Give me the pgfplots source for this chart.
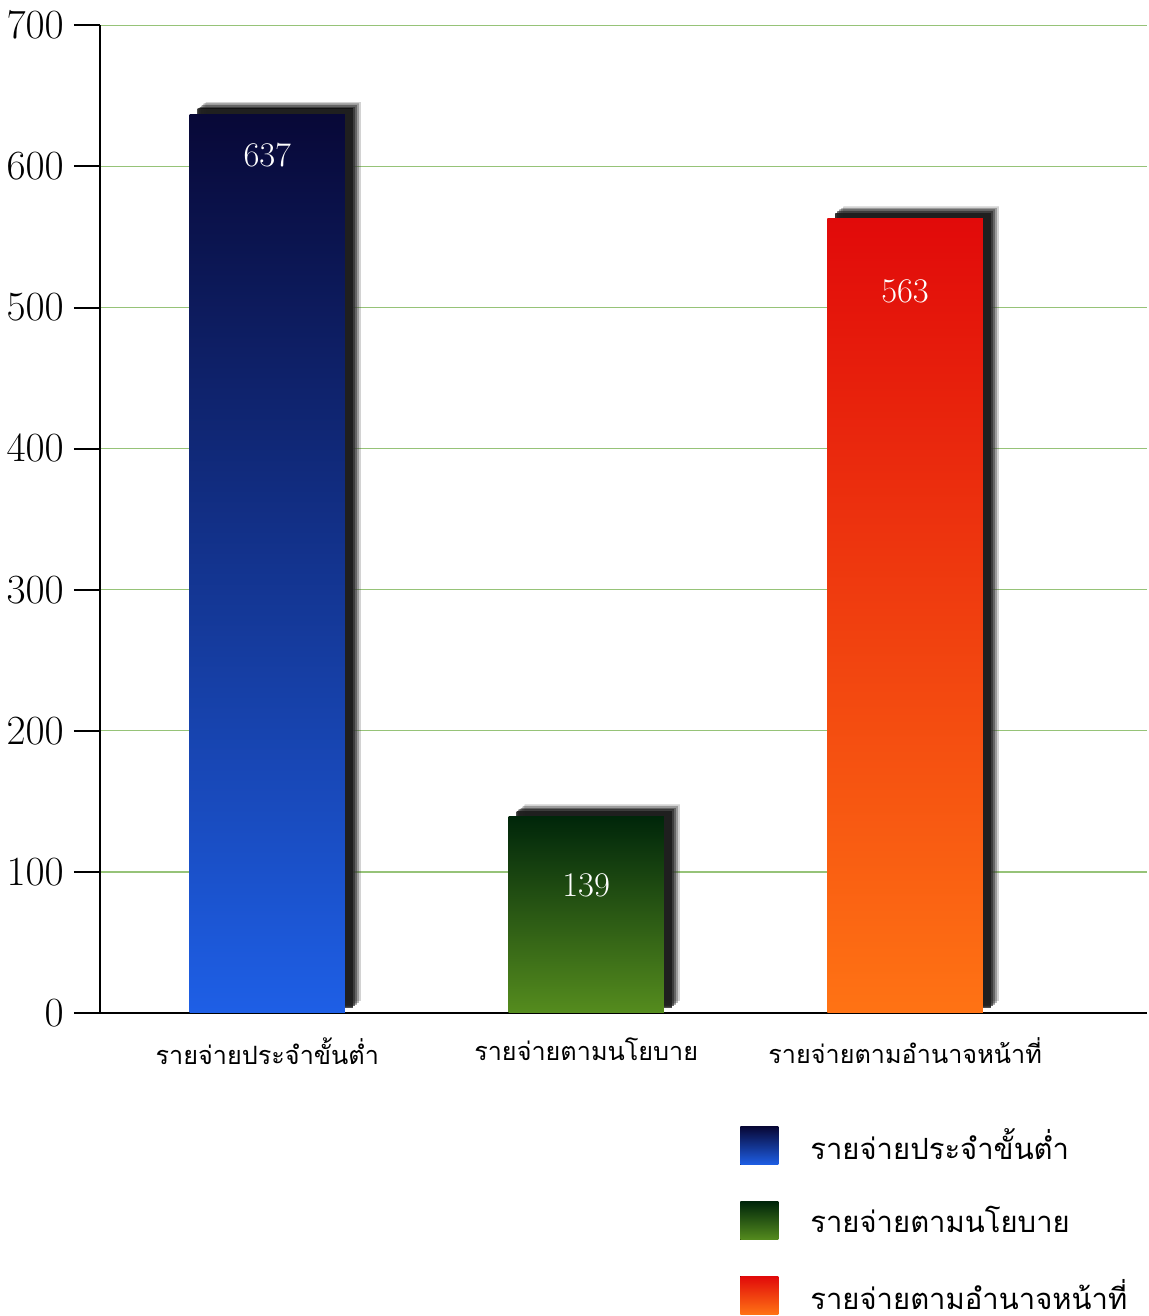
\documentclass[border=0pt]{standalone}
\usepackage{fontspec}
\usepackage{pgfplots}
\pgfplotsset{compat=1.18}
\usetikzlibrary{shadows}
\newfontfamily\thaifont[Script=Thai]{Loma}
\definecolor{gridgreen}{RGB}{150,195,120}
\definecolor{navytop}{RGB}{8,8,55}
\definecolor{bluebot}{RGB}{30,95,230}
\definecolor{greentop}{RGB}{0,38,10}
\definecolor{greenbot}{RGB}{85,140,30}
\definecolor{redtop}{RGB}{225,10,10}
\definecolor{orangebot}{RGB}{255,115,20}
\pgfplotsset{
  barshadow/.style={
    drop shadow={shadow xshift=8pt, shadow yshift=6pt, opacity=0.12,
      top color=black, bottom color=black},
    drop shadow={shadow xshift=7pt, shadow yshift=5.2pt, opacity=0.2,
      top color=black, bottom color=black},
    drop shadow={shadow xshift=6pt, shadow yshift=4.4pt, opacity=0.3,
      top color=black, bottom color=black},
    drop shadow={shadow xshift=5pt, shadow yshift=3.6pt, opacity=0.45,
      top color=black, bottom color=black},
    drop shadow={shadow xshift=4pt, shadow yshift=2.8pt, opacity=0.7,
      top color=black, bottom color=black}},
  sqlegend/.style={legend image code/.code={%
      \fill[##1, draw=none] (0pt,-9.5pt) rectangle (19pt,9.5pt);}},
}
\begin{document}
\begin{tikzpicture}
\begin{axis}[
  scale only axis,
  width=523.5pt, height=493.5pt,
  xmin=-0.525, xmax=2.76,
  ymin=0, ymax=700,
  ytick={0,100,...,700},
  xtick={0,1,2},
  xticklabels={รายจ่ายประจำขั้นต่ำ, รายจ่ายตามนโยบาย, รายจ่ายตามอำนาจหน้าที่},
  axis lines*=left,
  axis line style={black, line width=1pt},
  tick align=outside,
  major tick length=13pt,
  ytick style={black, line width=1pt},
  xtick style={draw=none},
  ymajorgrids,
  grid style={gridgreen, line width=0.7pt},
  yticklabel style={font=\fontsize{19.8}{22}\selectfont, inner ysep=6pt,
    xshift=-1.5pt},
  xticklabel style={font=\thaifont\fontsize{12.6}{15}\selectfont, yshift=4pt},
  legend style={at={(rel axis cs:0.611,-0.113)}, anchor=north west,
    draw=none, fill=none, inner sep=0pt, row sep=17.5pt,
    font=\thaifont\fontsize{14.6}{17}\selectfont,
    /tikz/every odd column/.style={column sep=14pt}},
  legend cell align=left,
]
\addplot[ybar, bar width=0.487, bar shift=0pt, draw=none,
  top color=navytop, bottom color=bluebot, barshadow,
  nodes near coords,
  every node near coord/.append style={white, anchor=north, yshift=-11.5pt,
    font=\fontsize{16}{18}\selectfont}, forget plot]
  coordinates {(0,637)};
\addplot[ybar, bar width=0.487, bar shift=0pt, draw=none,
  top color=greentop, bottom color=greenbot, barshadow,
  nodes near coords,
  every node near coord/.append style={white, anchor=north, yshift=-25pt,
    font=\fontsize{16}{18}\selectfont}, forget plot]
  coordinates {(1,139)};
\addplot[ybar, bar width=0.487, bar shift=0pt, draw=none,
  top color=redtop, bottom color=orangebot, barshadow,
  nodes near coords,
  every node near coord/.append style={white, anchor=north, yshift=-27pt,
    font=\fontsize{16}{18}\selectfont}, forget plot]
  coordinates {(2,563)};
\addlegendimage{sqlegend, top color=navytop, bottom color=bluebot}
\addlegendentry{รายจ่ายประจำขั้นต่ำ}
\addlegendimage{sqlegend, top color=greentop, bottom color=greenbot}
\addlegendentry{รายจ่ายตามนโยบาย}
\addlegendimage{sqlegend, top color=redtop, bottom color=orangebot}
\addlegendentry{รายจ่ายตามอำนาจหน้าที่}
\end{axis}
\end{tikzpicture}
\end{document}
